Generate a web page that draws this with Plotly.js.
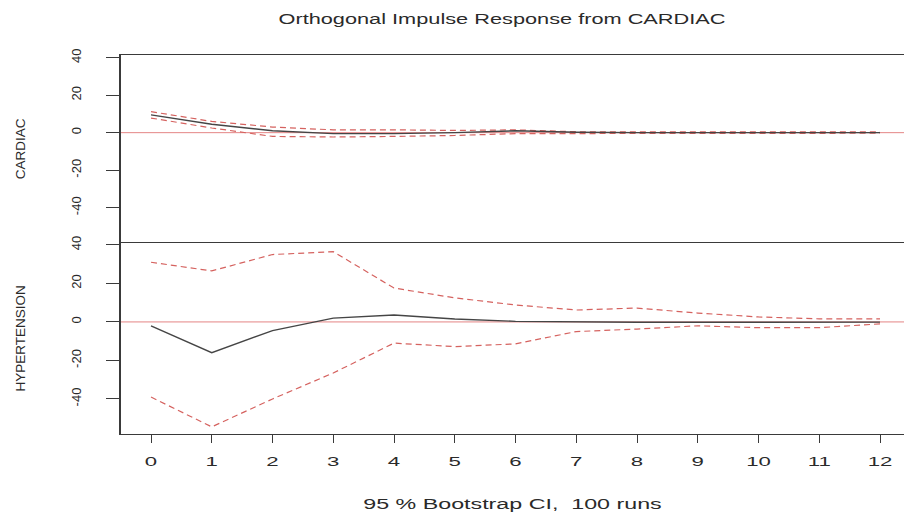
<!DOCTYPE html>
<html>
<head>
<meta charset="utf-8">
<script src="https://cdn.plot.ly/plotly-3.0.1.min.js"></script>
<style>
  html, body { margin: 0; padding: 0; background: #ffffff; }
  #chart { width: 904px; height: 513px; }
</style>
</head>
<body>
<div id="chart"></div>
<script>
// Orthogonal impulse responses to a CARDIAC shock, lags 0..12
const lags = [0, 1, 2, 3, 4, 5, 6, 7, 8, 9, 10, 11, 12];

// Response of CARDIAC
const cardiacIrf   = [9.5, 4.5, 1.0, -0.5, -0.5, 0.0, 1.0, 0.2, 0.0, 0.0, 0.0, 0.0, 0.0];
const cardiacUpper = [11.2, 6.0, 3.0, 1.5, 1.5, 1.2, 1.5, 0.5, 0.5, 0.5, 0.5, 0.5, 0.5];
const cardiacLower = [7.8, 2.5, -2.0, -2.3, -2.0, -1.5, -0.5, -0.5, -0.3, -0.3, -0.3, -0.3, -0.3];

// Response of HYPERTENSION
const hyperIrf   = [-2.0, -16.0, -4.5, 2.0, 3.6, 1.5, 0.3, 0.0, -0.2, -0.2, -0.2, -0.2, -0.1];
const hyperUpper = [31.0, 26.5, 35.0, 36.5, 17.6, 12.5, 8.8, 6.2, 7.2, 4.6, 2.6, 1.6, 1.6];
const hyperLower = [-39.0, -54.5, -40.0, -26.5, -11.0, -12.8, -11.4, -5.0, -3.7, -2.0, -3.0, -3.0, -1.0];

// Axis tick labels
const yTickVals = [-40, -20, 0, 20, 40];
const yTickText = ['-40', '-20', '0', '20', '40'];
const xTickText = lags.map(String);

const FONT = 'Liberation Sans, Arial, Helvetica, sans-serif';
const INK = '#2a2a2a';
const FRAME = '#3a3a3a';
const CI_RED = '#d5625f';
const ZERO_RED = '#e48585';

function ciTrace(y, xa, ya) {
  return { x: lags, y: y, xaxis: xa, yaxis: ya, type: 'scatter', mode: 'lines',
           line: { color: CI_RED, width: 1.2, dash: '6px,4px' }, hoverinfo: 'skip' };
}
function irfTrace(y, xa, ya) {
  return { x: lags, y: y, xaxis: xa, yaxis: ya, type: 'scatter', mode: 'lines',
           line: { color: '#454545', width: 1.4 }, hoverinfo: 'skip' };
}

const data = [
  ciTrace(cardiacUpper, 'x2', 'y2'),
  ciTrace(cardiacLower, 'x2', 'y2'),
  irfTrace(cardiacIrf, 'x2', 'y2'),
  ciTrace(hyperUpper, 'x', 'y'),
  ciTrace(hyperLower, 'x', 'y'),
  irfTrace(hyperIrf, 'x', 'y')
];

const yCommon = {
  tickmode: 'array', tickvals: yTickVals, ticktext: yTickText,
  tickangle: -90, ticks: 'outside', ticklen: 13, tickwidth: 1, tickcolor: FRAME,
  ticklabelstandoff: 20,
  tickfont: { family: FONT, size: 13, color: INK },
  showline: true, linecolor: FRAME, linewidth: 1.8,
  showgrid: false, zeroline: false, fixedrange: true
};

const layout = {
  width: 904, height: 513,
  margin: { l: 121, r: 0, t: 55, b: 79 },
  paper_bgcolor: '#ffffff', plot_bgcolor: '#ffffff',
  showlegend: false,
  title: {
    text: 'Orthogonal Impulse Response from CARDIAC',
    font: { family: FONT, size: 15, color: INK },
    xref: 'container', x: 502 / 904, xanchor: 'center',
    yref: 'container', y: 1 - 19 / 513, yanchor: 'middle'
  },
  // bottom panel axis: frame line below and the divider between the panels
  xaxis: {
    domain: [0, 1], anchor: 'y', range: [-0.494, 12.395],
    tickmode: 'array', tickvals: lags, ticktext: xTickText,
    ticks: 'outside', ticklen: 8, tickwidth: 1, tickcolor: FRAME,
    ticklabelstandoff: 8,
    tickfont: { family: FONT, size: 12, color: INK },
    showline: true, mirror: true, linecolor: FRAME, linewidth: 1.2,
    showgrid: false, zeroline: false, fixedrange: true,
    title: { text: '95 % Bootstrap CI,\u00a0 100 runs', standoff: 30,
             font: { family: FONT, size: 15.5, color: INK } }
  },
  // top panel axis: only the upper frame line
  xaxis2: {
    domain: [0, 1], anchor: 'y2', matches: 'x', side: 'top',
    showticklabels: false, ticks: '',
    showline: true, mirror: false, linecolor: FRAME, linewidth: 1.2,
    showgrid: false, zeroline: false, fixedrange: true
  },
  yaxis: Object.assign({}, yCommon, {
    domain: [0, 0.504], anchor: 'x', range: [-58.2, 41.0],
    title: { text: 'HYPERTENSION', standoff: 40, font: { family: FONT, size: 13.5, color: INK } }
  }),
  yaxis2: Object.assign({}, yCommon, {
    domain: [0.504, 1], anchor: 'x2', range: [-58.8, 41.4],
    title: { text: 'CARDIAC', standoff: 40, font: { family: FONT, size: 13.5, color: INK } }
  }),
  shapes: [
    { type: 'line', xref: 'paper', x0: 0, x1: 1, yref: 'y', y0: 0, y1: 0,
      line: { color: ZERO_RED, width: 1 }, layer: 'below' },
    { type: 'line', xref: 'paper', x0: 0, x1: 1, yref: 'y2', y0: 0, y1: 0,
      line: { color: ZERO_RED, width: 1 }, layer: 'below' }
  ]
};

// Widen horizontal labels about their anchor point (the device output is stretched sideways)
function widen(selector, k) {
  document.querySelectorAll(selector).forEach(function (t) {
    const x = parseFloat(t.getAttribute('x')) || 0;
    const tr = t.getAttribute('transform') || '';
    t.setAttribute('transform', tr + ' translate(' + x + ',0) scale(' + k + ',1) translate(' + (-x) + ',0)');
  });
}

Plotly.newPlot('chart', data, layout, { staticPlot: true, responsive: false }).then(function () {
  widen('.gtitle', 1.45);
  widen('.g-xtitle text', 1.5);
  widen('.xaxislayer-above .xtick text', 1.85);
});
</script>
</body>
</html>
